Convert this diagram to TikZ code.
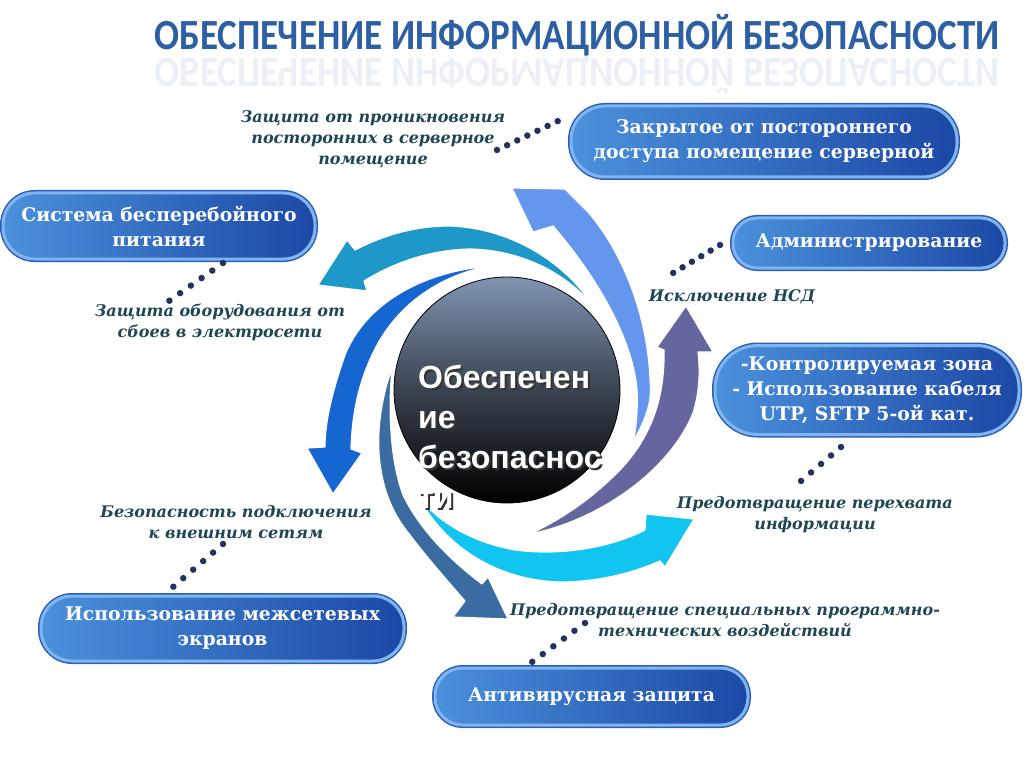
\documentclass[tikz,border=0pt]{standalone}
\usepackage{fontspec}
\usepackage{graphicx}
\setmainfont{DejaVu Serif}
\newfontfamily\titlefont{Carlito}
\newfontfamily\corefont{Liberation Sans}
\definecolor{titleblue}{RGB}{45,95,165}
\definecolor{labtext}{RGB}{30,70,85}
\definecolor{dotnavy}{RGB}{35,50,95}
\definecolor{pillL}{RGB}{75,145,220}
\definecolor{pillR}{RGB}{28,72,165}
\definecolor{pillRim}{RGB}{130,180,240}
\definecolor{pillEdge}{RGB}{40,95,185}
\definecolor{swA}{RGB}{100,150,238}
\definecolor{swB}{RGB}{30,152,200}
\definecolor{swC}{RGB}{22,102,210}
\definecolor{swD}{RGB}{58,108,162}
\definecolor{swE}{RGB}{18,196,240}
\definecolor{swF}{RGB}{102,102,158}
\definecolor{coreTop}{RGB}{128,148,178}
\usetikzlibrary{positioning}

\begin{document}
\begin{tikzpicture}[x=1pt,y=-1pt,
  pill/.style n args={2}{rectangle,minimum width=#1pt,minimum height=#2pt,rounded corners={0.48*#2pt},
    left color=pillL,right color=pillR,draw=pillRim,line width=3pt,preaction={draw=pillEdge,line width=6pt},
    text=white,align=center,font=\bfseries\fontsize{18.8}{25}\selectfont},
  lab/.style={align=center,text=labtext,inner sep=1pt,font=\bfseries\itshape\fontsize{16}{21}\selectfont},
  coretxt/.style={anchor=north west,inner sep=0pt,align=left,text=#1,font=\corefont\bfseries\fontsize{32}{40}\selectfont},
  swirl/.style={fill=#1,draw=white,line width=1.2pt,line join=round},
  dotline/.style={draw=dotnavy,line width=6.5pt,line cap=round,dash pattern=on 0pt off #1pt}]
\fill[white] (0,0) rectangle (1024,767);
\useasboundingbox (0,0) rectangle (1024,767);

% title and its reflection
\node[anchor=base,inner sep=0pt,text=titleblue] (title) at (577,50)
  {\resizebox{845pt}{\height}{\titlefont\bfseries\fontsize{43}{50}\selectfont ОБЕСПЕЧЕНИЕ ИНФОРМАЦИОННОЙ БЕЗОПАСНОСТИ}};
\node[anchor=north,inner sep=0pt,text=titleblue,opacity=0.09] (titleecho) at (577,52)
  {\scalebox{1}[-1]{\resizebox{845pt}{\height}{\titlefont\bfseries\fontsize{43}{50}\selectfont ОБЕСПЕЧЕНИЕ ИНФОРМАЦИОННОЙ БЕЗОПАСНОСТИ}}};

% swirl arrows
\filldraw[swirl=swA] (633,442) .. controls (648,415) and (652,400) .. (650,380)
  .. controls (648,320) and (625,255) .. (588,212) -- (565,189) -- (512,188) -- (533,232) -- (553,226)
  .. controls (598,278) and (633,340) .. (637,390) .. controls (638,410) and (636,430) .. (633,442) -- cycle;
\filldraw[swirl=swB] (592,305) .. controls (565,262) and (510,228) .. (450,226)
  .. controls (410,226) and (378,238) .. (355,250) -- (347,240) -- (318,285) -- (367,291) -- (364,281)
  .. controls (395,262) and (430,250) .. (470,249) .. controls (520,250) and (565,272) .. (592,305) -- cycle;
\filldraw[swirl=swC] (490,266) .. controls (420,272) and (365,305) .. (345,355)
  .. controls (333,390) and (325,420) .. (325,447) -- (307,448) -- (333,494) -- (362,453) -- (351,449)
  .. controls (352,415) and (358,385) .. (372,355) .. controls (395,305) and (440,275) .. (490,266) -- cycle;
\filldraw[swirl=swD] (392,368) .. controls (372,425) and (372,490) .. (410,535)
  .. controls (425,555) and (445,578) .. (465,601) -- (453,617) -- (508,619) -- (488,577) -- (482,584)
  .. controls (450,560) and (420,530) .. (403,495) .. controls (390,460) and (388,410) .. (392,368) -- cycle;
\filldraw[swirl=swE] (417,494) .. controls (440,540) and (490,580) .. (560,582)
  .. controls (600,582) and (635,572) .. (660,561) -- (665,567) -- (694,519) -- (646,514) -- (645,530)
  .. controls (610,548) and (560,556) .. (515,550) .. controls (470,542) and (435,520) .. (417,494) -- cycle;
\filldraw[swirl=swF] (530,534) .. controls (600,520) and (670,470) .. (693,413)
  .. controls (700,390) and (700,370) .. (698,352) -- (713,352) -- (686,306) -- (657,347) -- (664,350)
  .. controls (665,400) and (650,440) .. (617,473) .. controls (590,500) and (560,520) .. (530,534) -- cycle;

% centre
\node[circle,minimum size=226pt,top color=coreTop,bottom color=black,middle color=coreTop!45!black,
  draw=black,line width=0.8pt] (core) at (507,390) {};
\node[coretxt=black!80] (coreshade) at (420,367) {Обеспечен\\ие\\безопаснос\\ти};
\node[coretxt=white] (coretext) at (418,365) {Обеспечен\\ие\\безопаснос\\ти};

% boxes
\node[pill={386}{71}] (server) at (764,141.5) {Закрытое от постороннего\\доступа помещение серверной};
\node[pill={312}{66}] (ups) at (159,226) {Система бесперебойного\\питания};
\node[pill={272}{50}] (admin) at (869,243) {Администрирование};
\node[pill={304}{89}] (zone) at (867,390) {-Контролируемая зона\\- Использование кабеля\\UTP, SFTP 5-ой кат.};
\node[pill={363}{65}] (firewall) at (222.5,628.5) {Использование межсетевых\\экранов};
\node[pill={313}{57}] (antivirus) at (591.5,696.5) {Антивирусная защита};

% labels
\node[lab] (intrude) at (373,139) {Защита от проникновения\\посторонних в серверное\\помещение};
\node[lab] (surge) at (220,322) {Защита оборудования от\\сбоев в электросети};
\node[lab] (nsd) at (732,297) {Исключение НСД};
\node[lab] (intercept) at (815,515) {Предотвращение перехвата\\информации};
\node[lab] (extnet) at (236,522) {Безопасность подключения\\к внешним сетям};
\node[lab] (malware) at (725,620) {Предотвращение специальных программно-\\технических воздействий};

% dotted connectors
\foreach \n/\p in {srvA/{497,150},srvB/{558,121},upsA/{223,263},upsB/{169,301},admA/{720,245},admB/{673,273},
  zoneA/{841,447},zoneB/{801,481},fwA/{223,544},fwB/{173,587},avA/{585,623},avB/{532,662}}
  \coordinate (\n) at (\p);
\foreach \a/\b/\g in {srvA/srvB/11.2,upsA/upsB/13.1,admA/admB/10.9,zoneA/zoneB/13.1,fwA/fwB/13.1,avA/avB/13.1}
  \draw[dotline=\g] (\a) -- (\b);
\end{tikzpicture}
\end{document}
